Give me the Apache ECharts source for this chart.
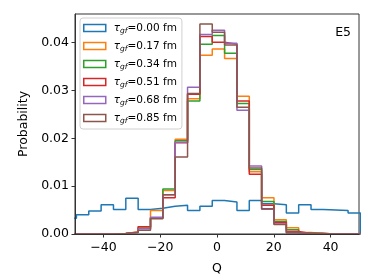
<!DOCTYPE html>
<html><head><meta charset="utf-8">
<script src="https://cdn.jsdelivr.net/npm/echarts@6/dist/echarts.min.js"></script>
<style>html,body{margin:0;padding:0;background:#fff}#c{width:374px;height:280px}</style>
</head><body><div id="c"></div>
<script>
// Histogram bins: first left edge and width (Q units)
var binLeft = -49.5 - 100 / 23;
var binWidth = 100 / 23;
var tauLabels = ['0.00', '0.17', '0.34', '0.51', '0.68', '0.85'];
var colors = ['#1f77b4', '#ff7f0e', '#2ca02c', '#d62728', '#9467bd', '#8c564b'];
var xTicks = [-40, -20, 0, 20, 40];
var yTicks = [0, 0.01, 0.02, 0.03, 0.04];
var tau000 = [0.0033, 0.0040, 0.0048, 0.0061, 0.0051, 0.0075, 0.0051, 0.0054, 0.0058, 0.0060, 0.0049, 0.0058, 0.0070, 0.0067, 0.0049, 0.0070, 0.0063, 0.0061, 0.0044, 0.0061, 0.0051, 0.0050, 0.0049, 0.0044];
var tau017 = [0, 0, 0, 0, 0.0001, 0.0004, 0.0015, 0.0049, 0.0091, 0.0198, 0.0283, 0.0374, 0.0387, 0.0367, 0.0288, 0.0130, 0.0076, 0.0030, 0.0013, 0.0003, 0.0001, 0, 0, 0];
var tau034 = [0, 0, 0, 0, 0.0001, 0.0003, 0.0012, 0.0034, 0.0094, 0.0195, 0.0278, 0.0397, 0.0415, 0.0378, 0.0273, 0.0135, 0.0068, 0.0026, 0.0009, 0.0002, 0.0001, 0, 0, 0];
var tau051 = [0, 0, 0, 0, 0.0001, 0.0004, 0.0015, 0.0033, 0.0076, 0.0191, 0.0292, 0.0413, 0.0401, 0.0397, 0.0278, 0.0125, 0.0060, 0.0024, 0.0005, 0.0001, 0.0001, 0, 0, 0];
var tau068 = [0, 0, 0, 0, 0.0001, 0.0003, 0.0011, 0.0035, 0.0082, 0.0192, 0.0307, 0.0417, 0.0426, 0.0399, 0.0259, 0.0142, 0.0052, 0.0021, 0.0003, 0.0001, 0.0001, 0, 0, 0];
var tau085 = [0, 0, 0, 0, 0.0001, 0.0003, 0.0008, 0.0032, 0.0082, 0.0161, 0.0294, 0.0439, 0.0422, 0.0395, 0.0265, 0.0138, 0.0053, 0.0020, 0.0002, 0.0001, 0.0001, 0, 0, 0];
var allSeries = [tau000, tau017, tau034, tau051, tau068, tau085];

function stepPoints(vals) {
  var pts = [[binLeft, 0]];
  for (var k = 0; k < vals.length; k++) {
    var a = binLeft + k * binWidth, b = a + binWidth;
    pts.push([a, vals[k]]);
    pts.push([b, vals[k]]);
  }
  pts.push([binLeft + vals.length * binWidth, 0]);
  return pts;
}
var FONT = 'DejaVu Sans';
var names = tauLabels.map(function (t) { return 'tau' + t; });
var series = allSeries.map(function (vals, i) {
  return {
    name: names[i], type: 'line', data: stepPoints(vals), symbol: 'none',
    lineStyle: { color: colors[i], width: 1.5 }, itemStyle: { color: colors[i] },
    animation: false, clip: true, z: 2
  };
});
var chart = echarts.init(document.getElementById('c'), null, { renderer: 'canvas' });
chart.setOption({
  animation: false,
  grid: { left: 75, right: 15, top: 14, bottom: 46, show: true, borderColor: '#333', borderWidth: 1, backgroundColor: 'transparent' },
  title: { text: 'E5', right: 18, top: 21, textStyle: { fontFamily: FONT, fontSize: 12.5, fontWeight: 'normal', color: '#000' } },
  legend: {
    orient: 'vertical', left: 80, top: 18, padding: [3, 5, 4, 3], itemGap: 4,
    backgroundColor: 'rgba(255,255,255,0.8)', borderColor: '#d0d0d0', borderWidth: 1, borderRadius: 3,
    itemWidth: 22, itemHeight: 7,
    data: names.map(function (n, i) {
      return { name: n, icon: 'rect', itemStyle: { color: 'transparent', borderColor: colors[i], borderWidth: 1.5 } };
    }),
    formatter: function (n) { return '{t|τ}{s|gf}{n|=' + n.slice(3) + ' fm}'; },
    textStyle: {
      fontFamily: FONT, fontSize: 10.5, color: '#000', lineHeight: 14, padding: [0, 0, 0, 3],
      rich: {
        t: { fontFamily: FONT, fontSize: 10.5, fontStyle: 'italic', color: '#000' },
        s: { fontFamily: FONT, fontSize: 7.5, fontStyle: 'italic', color: '#000', padding: [6, 0, 0, 0] },
        n: { fontFamily: FONT, fontSize: 10.5, color: '#000' }
      }
    }
  },
  xAxis: {
    type: 'value', min: -50, max: 50, z: 5,
    name: 'Q', nameLocation: 'middle', nameGap: 28,
    nameTextStyle: { fontFamily: FONT, fontSize: 12.5, color: '#000' },
    axisLine: { show: true, onZero: false, lineStyle: { color: '#333', width: 1 } },
    axisTick: { show: true, inside: false, length: 3.5, customValues: xTicks, lineStyle: { color: '#333' } },
    axisLabel: { customValues: xTicks, margin: 7, fontFamily: FONT, fontSize: 12.5, color: '#000',
      formatter: function (v) { return String(v).replace('-', '\u2212'); } },
    splitLine: { show: false }
  },
  yAxis: {
    type: 'value', min: 0, max: 0.046, z: 5,
    name: 'Probability', nameLocation: 'middle', nameGap: 42,
    nameTextStyle: { fontFamily: FONT, fontSize: 12.5, color: '#000' },
    axisLine: { show: true, onZero: false, lineStyle: { color: '#333', width: 1 } },
    axisTick: { show: true, inside: false, length: 3.5, customValues: yTicks, lineStyle: { color: '#333' } },
    axisLabel: { customValues: yTicks, margin: 6, fontFamily: FONT, fontSize: 12.5, color: '#000',
      formatter: function (v) { return v.toFixed(2); } },
    splitLine: { show: false }
  },
  series: series
});
</script></body></html>
